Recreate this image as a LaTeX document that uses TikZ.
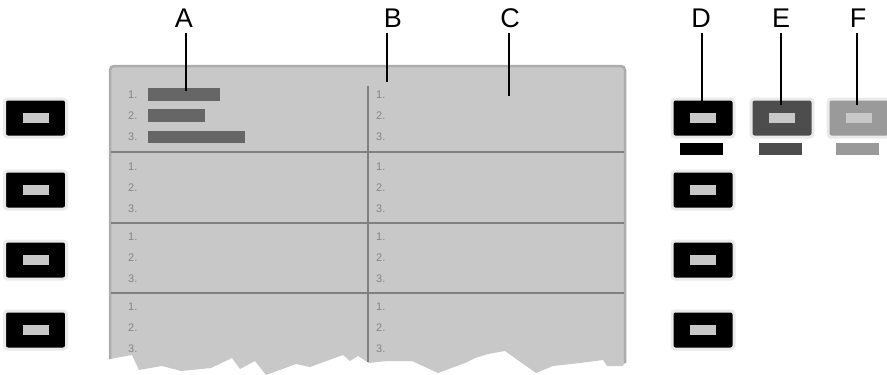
\documentclass[tikz,border=0pt]{standalone}
\usepackage{fontspec}
\setmainfont{Liberation Sans}
\usetikzlibrary{positioning}
\definecolor{Panel}{HTML}{C8C8C8}
\definecolor{Rim}{HTML}{ACACAC}
\definecolor{Rule}{HTML}{808080}
\definecolor{Bar}{HTML}{666666}
\definecolor{Num}{HTML}{858585}
\definecolor{Slate}{HTML}{4D4D4D}
\definecolor{Ash}{HTML}{9A9A9A}
\definecolor{Halo}{HTML}{EAEAEA}
\begin{document}
\begin{tikzpicture}[x=1pt,y=-1pt,
    callout/.style={font=\fontsize{27}{30}\selectfont,inner sep=5pt},
    num/.style={font=\fontsize{11}{13}\selectfont,text=Num,anchor=west,inner sep=0pt},
    btn/.style={fill=#1,draw=Halo,line width=3pt,rounded corners=3pt,minimum width=62pt,minimum height=38pt,
      path picture={\fill[Panel,sharp corners] ([xshift=-13pt,yshift=-5pt]path picture bounding box.center) rectangle ([xshift=13pt,yshift=5pt]path picture bounding box.center);}},
    btn/.default=black,
    swatch/.style={fill=#1,minimum width=43pt,minimum height=12pt,inner sep=0pt}]
    \useasboundingbox (0,0) rectangle (887,375);
    % torn panel
    \fill[Panel] (110,359) [rounded corners=4pt]-- (110,66) -- (625,66) [sharp corners]-- (625,363)
      -- (622,366) -- (607,366) -- (603,360) -- (580,363) -- (553,366) -- (536,373) -- (519,361)
      -- (505,351) -- (488,354) -- (475,358) -- (465,363) -- (438,373) -- (412,361) -- (387,361)
      -- (369,363) -- (358,356) -- (350,361) -- (343,355) -- (310,367) -- (296,364) -- (266,375)
      -- (255,361) -- (240,369) -- (232,358) -- (211,368) -- (181,371) -- (162,366) -- (139,370)
      -- (132,355) -- cycle;
    \draw[Rim,line width=2.5pt,rounded corners=4pt] (110,359) -- (110,66) -- (625,66) -- (625,363);
    \draw[Rule,line width=1.5pt] (368,86) -- (368,362);
    \foreach \y in {152,223,293} \draw[Rule,line width=1.5pt] (111,\y) -- (624,\y);
    \foreach \y [count=\r] in {95,167,237,307}
      \foreach \i in {1,2,3} {
        \node[num] (l\r-\i) at (128,\y+21*\i-21) {\i.};
        \node[num] (r\r-\i) at (376,\y+21*\i-21) {\i.};
      }
    \fill[Bar] (148,88) rectangle (220,101);
    \fill[Bar] (148,109) rectangle (205,122);
    \fill[Bar] (148,131) rectangle (245,143);
    % keys
    \foreach \y [count=\k] in {118,190,260,330} {
      \node[btn] (p\k) at (35.5,\y) {};
      \node[btn] (d\k) at (703,\y) {};
    }
    \node[btn=Slate] (e1) at (782,118) {};
    \node[btn=Ash] (f1) at (859,118) {};
    \node[swatch=black,below=4pt of d1,xshift=-2pt] (sd) {};
    \node[swatch=Slate,below=4pt of e1,xshift=-2pt] (se) {};
    \node[swatch=Ash,below=4pt of f1,xshift=-2pt] (sf) {};
    % callouts
    \coordinate (tA) at (186,91); \coordinate (tB) at (387,82); \coordinate (tC) at (509,96);
    \coordinate (tD) at (702,105); \coordinate (tE) at (781,105); \coordinate (tF) at (857,105);
    \foreach \n/\x in {A/184,B/393,C/510,D/701,E/781,F/858} {
      \node[callout] (\n) at (\x,18.5) {\n};
      \draw[line width=1.5pt] (\n.south -| t\n) -- (t\n);
    }
\end{tikzpicture}
\end{document}
